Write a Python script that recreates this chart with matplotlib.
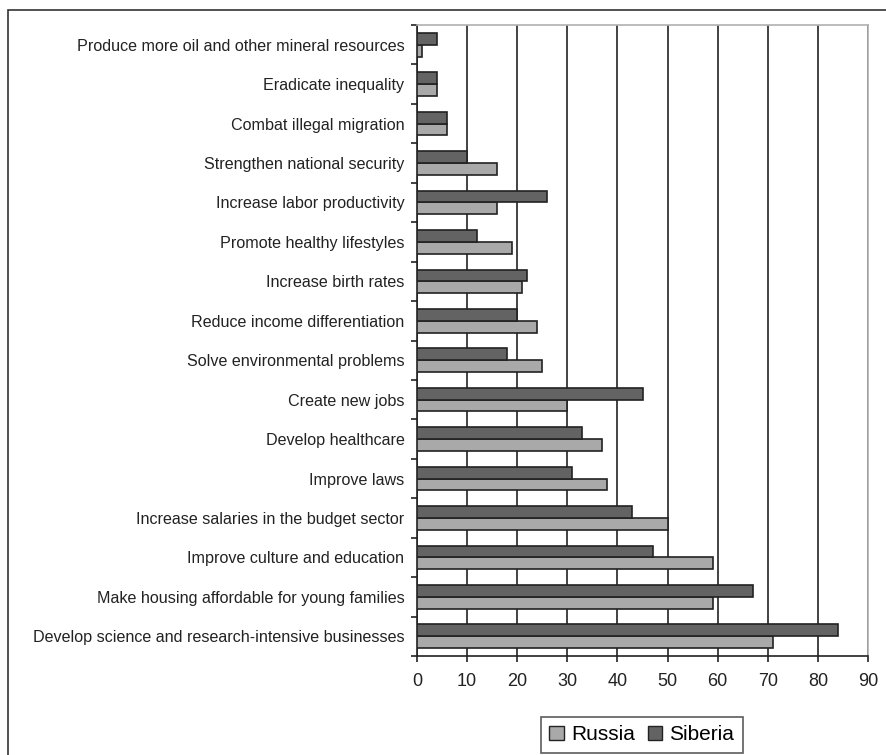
import numpy as np
import matplotlib.pyplot as plt
from matplotlib.patches import Rectangle, Patch

plt.rcParams['font.family'] = ['Liberation Sans', 'DejaVu Sans']

# categories from bottom to top
categories = [
    'Develop science and research-intensive businesses',
    'Make housing affordable for young families',
    'Improve culture and education',
    'Increase salaries in the budget sector',
    'Improve laws',
    'Develop healthcare',
    'Create new jobs',
    'Solve environmental problems',
    'Reduce income differentiation',
    'Increase birth rates',
    'Promote healthy lifestyles',
    'Increase labor productivity',
    'Strengthen national security',
    'Combat illegal migration',
    'Eradicate inequality',
    'Produce more oil and other mineral resources',
]
russia = [71, 59, 59, 50, 38, 37, 30, 25, 24, 21, 19, 16, 16, 6, 4, 1]
siberia = [84, 67, 47, 43, 31, 33, 45, 18, 20, 22, 12, 26, 10, 6, 4, 4]
xticks = list(range(0, 100, 10))

fig = plt.figure(figsize=(8.87, 7.55), dpi=100)
ax = fig.add_axes([417 / 887, 1 - 656 / 755, 451 / 887, 631 / 755])

y = np.arange(len(categories))
h = 0.3
ax.barh(y - h / 2, russia, height=h, color='#a9a9a9', edgecolor='#222222', linewidth=1.2, zorder=3)
ax.barh(y + h / 2, siberia, height=h, color='#636363', edgecolor='#222222', linewidth=1.2, zorder=3)

ax.set_xlim(0, 90)
ax.set_ylim(-0.5, len(categories) - 0.5)
ax.set_xticks(xticks)
ax.set_xticklabels([str(t) for t in xticks], fontsize=13, color='#222222')
ax.set_yticks(y)
ax.set_yticklabels(categories, fontsize=11.6, color='#222222')
ax.set_yticks(np.arange(-0.5, len(categories)), minor=True)
ax.tick_params(axis='y', which='major', length=0, pad=9)
ax.tick_params(axis='y', which='minor', length=4, width=1.2, color='#222222')
ax.tick_params(axis='x', length=4.5, width=1.2, color='#222222', pad=8)

ax.grid(axis='x', color='#222222', linewidth=1.2, zorder=0)
ax.set_axisbelow(True)
for s in ['left', 'bottom']:
    ax.spines[s].set_color('#222222')
    ax.spines[s].set_linewidth(1.2)
for s in ['top', 'right']:
    ax.spines[s].set_color('#b0b0b0')
    ax.spines[s].set_linewidth(1.2)

# outer chart frame
fig.patches.append(Rectangle((8 / 887, -0.05), 1.0, 1 - 10 / 755 + 0.05,
                             transform=fig.transFigure, fill=False,
                             edgecolor='#333333', linewidth=1.2))

handles = [Patch(facecolor='#a9a9a9', edgecolor='#222222', label='Russia'),
           Patch(facecolor='#636363', edgecolor='#222222', label='Siberia')]
leg = fig.legend(handles=handles, loc='upper left', bbox_to_anchor=(541 / 887, 1 - 717 / 755),
                 ncol=2, fontsize=15, frameon=True, fancybox=False, borderpad=0.4,
                 handlelength=0.7, handleheight=0.7, handletextpad=0.35, columnspacing=0.6,
                 borderaxespad=0)
leg.get_frame().set_edgecolor('#333333')
leg.get_frame().set_linewidth(1.2)

fig.savefig('out.png', dpi=100)
